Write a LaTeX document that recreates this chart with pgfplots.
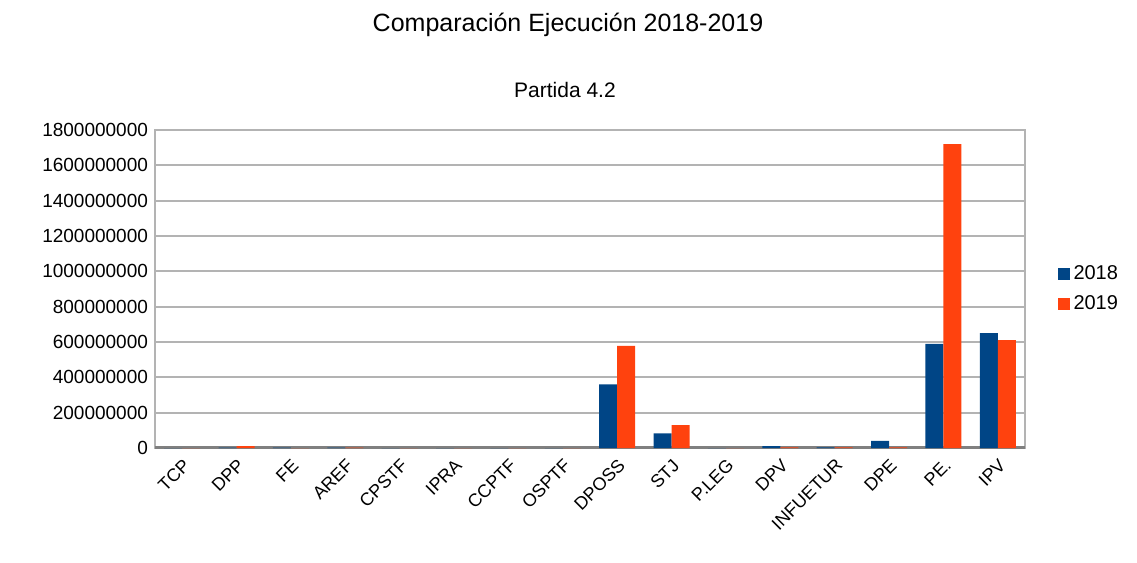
\documentclass[border=0pt]{standalone}
\usepackage{pgfplots}
\pgfplotsset{compat=1.18}
\usepackage{fontspec}
\setmainfont{Liberation Sans}
\definecolor{c2018}{HTML}{004586}
\definecolor{c2019}{HTML}{FF420E}
\definecolor{gridc}{HTML}{B3B3B3}
\definecolor{floorc}{HTML}{808080}
\begin{document}
\begin{tikzpicture}
\path[use as bounding box] (0,0) rectangle (568.5pt,281.5pt);
\node at (284pt,269pt) {\fontsize{12.5}{14}\selectfont Comparación Ejecución 2018-2019};
\node at (282.5pt,236.5pt) {\fontsize{10.5}{12}\selectfont Partida 4.2};
\begin{axis}[
  at={(77.5pt,57.5pt)}, anchor=south west,
  scale only axis,
  width=435pt, height=159pt,
  ybar=0pt, bar width=9pt,
  xmin=-0.5, xmax=15.5,
  ymin=0, ymax=1800000000,
  ytick={0,200000000,...,1800000000},
  scaled y ticks=false,
  /pgf/number format/assume math mode=true,
  yticklabel style={/pgf/number format/fixed, /pgf/number format/1000 sep={}, font=\fontsize{9.5}{11}\selectfont},
  xtick={0,...,15},
  xticklabels={TCP,DPP,FE,AREF,CPSTF,IPRA,CCPTF,OSPTF,DPOSS,STJ,P.LEG,DPV,INFUETUR,DPE,PE.,IPV},
  xticklabel style={rotate=45, anchor=north east, font=\fontsize{9}{10}\selectfont},
  major tick length=0pt,
  ymajorgrids=true,
  grid style={gridc, line width=1pt},
  axis line style={gridc, line width=1pt},
  legend style={at={(1.03,0.5)}, anchor=west, draw=none, font=\fontsize{10}{12}\selectfont, row sep=3pt},
  legend image code/.code={\fill[#1] (0pt,-3pt) rectangle (6pt,3pt);},
]
\draw[floorc, line width=2.5pt] (axis cs:-0.5,0) -- (axis cs:15.5,0);
\addplot[fill=c2018, draw=none] coordinates {
(0,0)(1,2000000)(2,2000000)(3,2000000)(4,0)(5,0)(6,0)(7,0)
(8,360000000)(9,83000000)(10,0)(11,10000000)(12,3000000)(13,40000000)(14,590000000)(15,650000000)
};
\addplot[fill=c2019, draw=none] coordinates {
(0,0)(1,10000000)(2,0)(3,2000000)(4,0)(5,0)(6,0)(7,0)
(8,578000000)(9,130000000)(10,0)(11,3000000)(12,3000000)(13,3000000)(14,1720000000)(15,611000000)
};
\legend{2018,2019}
\end{axis}
\end{tikzpicture}
\end{document}
